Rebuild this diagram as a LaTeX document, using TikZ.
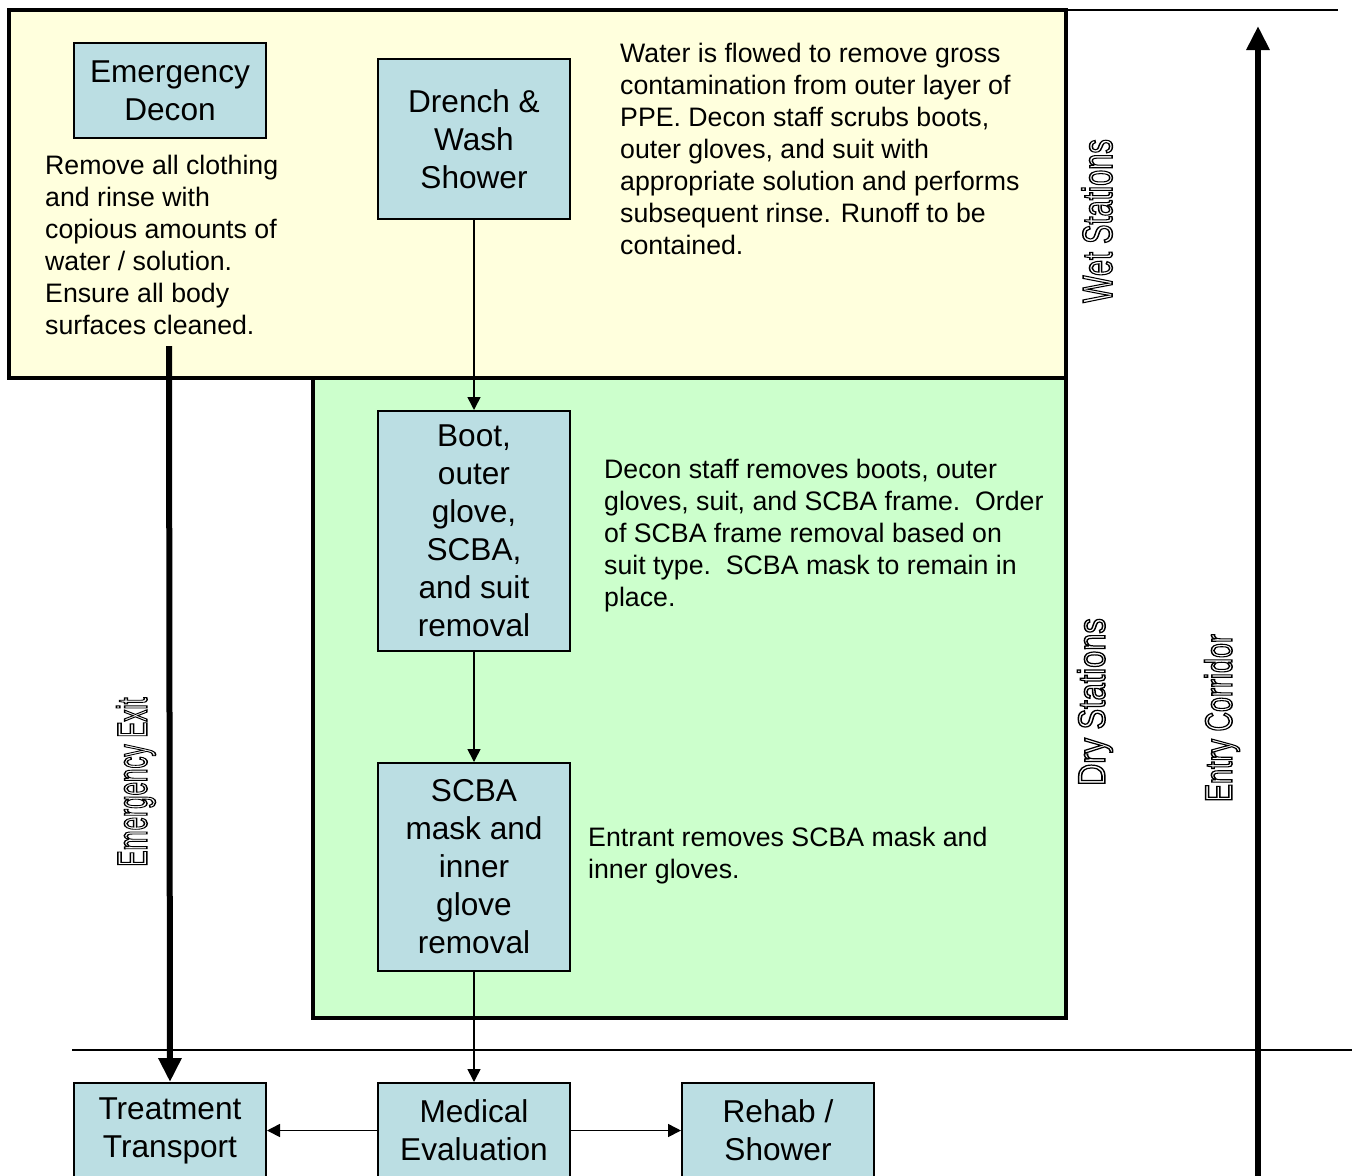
\documentclass[tikz,border=0pt]{standalone}
\usepackage{fontspec}
\setmainfont{Liberation Sans}
\usetikzlibrary{arrows.meta}

\definecolor{wetfill}{RGB}{255,255,221}
\definecolor{dryfill}{RGB}{204,255,204}
\definecolor{stationfill}{RGB}{187,222,227}

\newcommand\boxfont{\fontsize{31.6}{38}\selectfont}
\newcommand\notefont{\fontsize{26.7}{32}\selectfont}
% hollow (stroked) lettering for the zone labels
\newcommand\hollowtext[1]{\special{pdf:code 1 Tr 1.5 w}#1\special{pdf:code 0 Tr}}
\newcommand\zonelabel[3]{\scalebox{#2}[1]{\fontsize{#1}{#1}\selectfont\hollowtext{#3}}}

\tikzset{
  station/.style={draw=black, line width=2pt, fill=stationfill, anchor=north west,
    minimum width=192pt, inner sep=0pt, align=center, font=\boxfont},
  note/.style={anchor=north west, inner sep=0pt, align=left, font=\notefont},
  zone/.style={line width=3.5pt, draw=black},
  flow/.style={line width=1.6pt, -{Triangle[length=13pt,width=13pt]}},
  corridor/.style={line width=6pt, -{Triangle[length=24pt,width=22pt]}},
  zonetext/.style={rotate=90, inner sep=0pt},
  divider/.style={line width=2pt}
}

\begin{document}
\begin{tikzpicture}[x=1pt,y=-1pt]
\useasboundingbox (0,0) rectangle (1359,1175);
\clip (0,0) rectangle (1359,1175);

% decon zones
\path[zone, fill=dryfill] (313,378) rectangle (1066,1018);
\path[zone, fill=wetfill] (9,10) rectangle (1066,378);

% corridor boundary lines
\draw[divider] (1066,10) -- (1338,10);
\draw[divider] (72,1050) -- (1352,1050);

% stations
\node[station, minimum height=95pt]  (emer)  at (73,42)   {Emergency\\Decon};
\node[station, minimum height=160pt] (drench) at (377,58) {Drench \&\\Wash\\Shower};
\node[station, minimum height=240pt] (boot)  at (377,410) {Boot,\\outer\\glove,\\SCBA,\\and suit\\removal};
\node[station, minimum height=208pt] (mask)  at (377,762) {SCBA\\mask and\\inner\\glove\\removal};
\node[station, minimum height=95pt]  (treat) at (73,1082)  {Treatment\\Transport};
\node[station, minimum height=95pt]  (med)   at (377,1082) {Medical\\Evaluation};
\node[station, minimum height=95pt]  (rehab) at (681,1082) {Rehab /\\Shower};

% station notes
\node[note] (emernote) at (45,155) {Remove all clothing\\and rinse with\\copious amounts of\\water / solution.\\Ensure all body\\surfaces cleaned.};
\node[note] (drenchnote) at (620,43) {Water is flowed to remove gross\\contamination from outer layer of\\PPE. Decon staff scrubs boots,\\outer gloves, and suit with\\appropriate solution and performs\\subsequent rinse. Runoff to be\\contained.};
\node[note] (bootnote) at (604,459) {Decon staff removes boots, outer\\gloves, suit, and SCBA frame.\ \ Order\\of SCBA frame removal based on\\suit type.\ \ SCBA mask to remain in\\place.};
\node[note] (masknote) at (588,827) {Entrant removes SCBA mask and\\inner gloves.};

% zone labels
\node[zonetext] (wetlbl)   at (1097,221) {\zonelabel{42}{0.69}{Wet Stations}};
\node[zonetext] (drylbl)   at (1095,702) {\zonelabel{38}{0.81}{Dry Stations}};
\node[zonetext] (entrylbl) at (1222,718) {\zonelabel{38}{0.71}{Entry Corridor}};
\node[zonetext] (exitlbl)  at (136,782)  {\zonelabel{42}{0.575}{Emergency Exit}};

% flow between stations
\draw[flow] (drench.south) -- (boot.north);
\draw[flow] (boot.south) -- (mask.north);
\draw[flow] (mask.south) -- (med.north);
\draw[flow] (med.west) -- (treat.east);
\draw[flow] (med.east) -- (rehab.west);

% emergency exit and entry corridor
\coordinate (exitstart) at (169,346);
\draw[corridor] (exitstart) -- (treat.north);
\coordinate (entrystart) at (1258,1180);
\coordinate (entryend) at (1258,26);
\draw[corridor] (entrystart) -- (entryend);
\end{tikzpicture}
\end{document}
